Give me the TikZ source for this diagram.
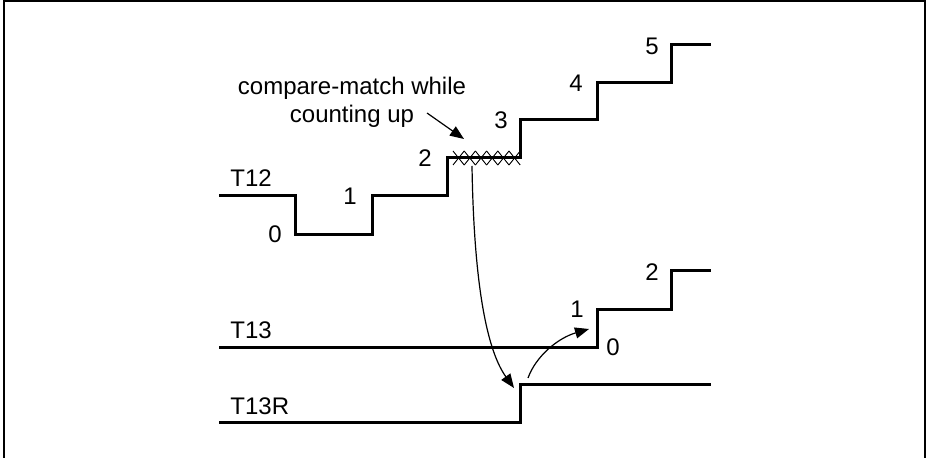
\documentclass[tikz,border=0pt]{standalone}
\usepackage{fontspec}
\setmainfont{Liberation Sans}
\usetikzlibrary{arrows.meta}
\begin{document}
\begin{tikzpicture}[x=0.5pt,y=-0.5pt,
  wave/.style={line width=1.5pt,line join=miter},
  thin/.style={line width=0.6pt},
  lbl/.style={inner sep=0pt,font=\fontsize{12}{14}\selectfont},
  arr/.style={thin,-{Triangle[length=7pt,width=5.5pt]}},
  hatch/.style={line width=0.45pt}]
\useasboundingbox (0,0) rectangle (926,458);
\begin{scope}
\clip (0,0) rectangle (926,458);
\draw[line width=1pt] (4.3,1.5) rectangle (925,470);
\end{scope}
% T12 waveform
\draw[wave] (219,196) -- (295,196) -- (295,235) -- (372,235) -- (372,196) -- (447,196) -- (447,158)
  -- (520,158) -- (520,120) -- (597,120) -- (597,83) -- (671,83) -- (671,45) -- (711,45);
% crosshatch
\foreach \i in {0,...,5}{
  \pgfmathsetmacro{\xa}{453+\i*11.2}
  \pgfmathsetmacro{\xb}{453+(\i+1)*11.2}
  \draw[hatch] (\xa,151) -- (\xb,165);
  \draw[hatch] (\xa,165) -- (\xb,151);
}
\coordinate (cm) at (472,166);
% T13 waveform
\draw[wave] (219,348) -- (597,348) -- (597,310) -- (671,310) -- (671,271) -- (711,271);
% T13R waveform
\draw[wave] (219,423) -- (520,423) -- (520,385) -- (711,385);
% labels
\node[lbl,anchor=base west] (t12) at (230,187) {T12};
\node[lbl,anchor=base west] (t13) at (230,339) {T13};
\node[lbl,anchor=base west] (t13r) at (230,415) {T13R};
\node[lbl] (a0) at (275,234) {0};
\node[lbl] (a1) at (350,196) {1};
\node[lbl] (a2) at (425,158) {2};
\node[lbl] (a3) at (501,120) {3};
\node[lbl] (a4) at (576,83) {4};
\node[lbl] (a5) at (652,46) {5};
\node[lbl] (b1) at (577,309) {1};
\node[lbl] (b2) at (652,272) {2};
\node[lbl] (b0) at (613,347) {0};
\node[lbl,anchor=base] (c1) at (352,95) {compare-match while};
\node[lbl,anchor=base] (c2) at (352,123) {counting up};
% arrows
\coordinate (p1) at (427,113);
\coordinate (p2) at (464,139);
\draw[arr] (p1) -- (p2);
\coordinate (q1) at (514,388);
\draw[arr] (cm) .. controls (474,290) and (488,352) .. (q1);
\coordinate (r0) at (528,378);
\coordinate (r1) at (589,329);
\draw[arr] (r0) .. controls (536,356) and (558,338) .. (r1);
\end{tikzpicture}
\end{document}
